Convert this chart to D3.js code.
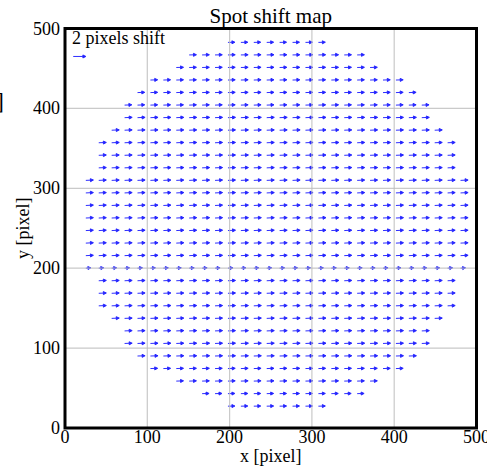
<!DOCTYPE html>
<html>
<head>
<meta charset="utf-8">
<script src="https://cdn.jsdelivr.net/npm/d3@7"></script>
<style>
  body { margin: 0; background: #fff; }
  svg { display: block; }
</style>
</head>
<body>
<div id="chart"></div>
<script>
"use strict";

// lattice of spot centres (pixel coords)
const colX = [25.3, 41.0, 56.7, 72.4, 88.1, 103.8, 119.5, 135.2, 150.9, 166.6,
    182.3, 198.0, 213.7, 229.4, 245.1, 260.8, 276.5, 292.2, 307.9, 323.6,
    339.3, 355.0, 370.7, 386.4, 402.1, 417.8, 433.5, 449.2, 464.9, 480.6];

// rows, top to bottom
const rowY = [482.6, 466.9, 451.2, 435.5, 419.8, 404.1, 388.4, 372.7, 357.0, 341.3,
    325.6, 309.9, 294.2, 278.5, 262.8, 247.1, 231.4, 215.7, 200.0, 184.3,
    168.6, 152.9, 137.2, 121.5, 105.8, 90.1, 74.4, 58.7, 43.0, 27.3];

// first / last column index in each row
const rowFirst = [11, 8, 7, 5, 4, 3, 3, 2, 1, 1, 1, 0, 0, 0, 0, 0, 0, 0, 0, 1, 1, 1, 2, 3, 3, 4, 5, 7, 9, 11];
const rowLast = [18, 21, 22, 24, 25, 26, 26, 27, 28, 28, 28, 29, 29, 29, 29, 29, 29, 29, 29, 28, 28, 28, 27, 26, 26, 25, 24, 22, 21, 18];

// typical shift in each row (pixels)
const rowDx = [1.1, 1.15, 1.15, 1.15, 1.15, 1.15, 1.2, 1.2, 1.2, 1.2, 1.2, 1.2, 1.2, 1.2, 1.2,
    1.2, 1.2, 1.2, 0.8, 1.2, 1.2, 1.2, 1.2, 1.2, 1.2, 1.2, 1.15, 1.15, 1.1, 1.1];
const rowDy = [0.03, 0.03, 0.03, 0.04, 0.04, 0.05, 0.05, 0.05, 0.05, 0.05, 0.05, 0.06, 0.06, 0.06, 0.06,
    0.06, 0.06, 0.06, 0.06, 0.05, 0.05, 0.05, 0.05, 0.05, 0.05, 0.04, 0.04, 0.04, 0.03, 0.03];

const ticks = [0, 100, 200, 300, 400, 500];
const legendPos = [10, 465];
const legendShift = 2;
const quiverScale = 7.7; // drawn data units per pixel of shift

const width = 487, height = 468;
const margin = { top: 28.5, right: 10.5, bottom: 40, left: 65 };
const serif = "'Liberation Serif', 'Times New Roman', Times, 'DejaVu Serif', serif";

const x = d3.scaleLinear().domain([0, 500]).range([margin.left, width - margin.right]);
const y = d3.scaleLinear().domain([0, 500]).range([height - margin.bottom, margin.top]);

const svg = d3.select("#chart").append("svg")
    .attr("width", width)
    .attr("height", height)
    .attr("font-family", serif)
    .style("font-family", serif);

// build arrows
let arrows = [];
rowY.forEach(function (yy, r) {
    for (let c = rowFirst[r]; c <= rowLast[r]; c++) {
        arrows.push({ x: colX[c], y: yy, dx: rowDx[r], dy: rowDy[r] });
    }
});

function arrowPath(x0, y0, x1, y1) {
    const ang = Math.atan2(y1 - y0, x1 - x0);
    const hl = 3, hw = 1.5;
    const bx = x1 - hl * Math.cos(ang), by = y1 - hl * Math.sin(ang);
    const px = -Math.sin(ang) * hw, py = Math.cos(ang) * hw;
    return "M" + x0 + "," + y0 + "L" + bx + "," + by +
        "M" + x1 + "," + y1 + "L" + (bx + px) + "," + (by + py) +
        "L" + (bx - px) + "," + (by - py) + "Z";
}

svg.append("g")
    .attr("class", "quiver")
    .selectAll("path")
    .data(arrows)
    .enter()
    .append("path")
    .attr("d", function (d) {
        return arrowPath(x(d.x), y(d.y), x(d.x + d.dx * quiverScale), y(d.y + d.dy * quiverScale));
    })
    .attr("stroke", "#2323ff")
    .attr("stroke-width", 0.95)
    .attr("fill", "#2323ff");

// grid
const grid = svg.append("g").attr("class", "grid");
grid.selectAll("line.gx")
    .data(ticks.slice(1, -1))
    .enter().append("line")
    .attr("x1", x).attr("x2", x)
    .attr("y1", y(0)).attr("y2", y(500))
    .attr("stroke", "#bdbdbd").attr("stroke-width", 1.2).attr("opacity", 0.8);
grid.selectAll("line.gy")
    .data(ticks.slice(1, -1))
    .enter().append("line")
    .attr("y1", y).attr("y2", y)
    .attr("x1", x(0)).attr("x2", x(500))
    .attr("stroke", "#bdbdbd").attr("stroke-width", 1.2).attr("opacity", 0.8);

// frame
svg.append("rect")
    .attr("x", x(0)).attr("y", y(500))
    .attr("width", x(500) - x(0)).attr("height", y(0) - y(500))
    .attr("fill", "none").attr("stroke", "#000").attr("stroke-width", 3);

// tick labels
svg.append("g").selectAll("text")
    .data(ticks)
    .enter().append("text")
    .attr("x", x)
    .attr("y", y(0) + 15)
    .attr("text-anchor", "middle")
    .attr("font-size", 18)
    .text(function (d) { return d; });

svg.append("g").selectAll("text")
    .data(ticks)
    .enter().append("text")
    .attr("x", x(0) - 5)
    .attr("y", function (d) { return y(d) + 6; })
    .attr("text-anchor", "end")
    .attr("font-size", 18)
    .text(function (d) { return d; });

// titles
svg.append("text")
    .attr("x", (x(0) + x(500)) / 2)
    .attr("y", 23)
    .attr("text-anchor", "middle")
    .attr("font-size", 21)
    .text("Spot shift map");

svg.append("text")
    .attr("x", (x(0) + x(500)) / 2)
    .attr("y", 462)
    .attr("text-anchor", "middle")
    .attr("font-size", 18)
    .text("x [pixel]");

svg.append("text")
    .attr("transform", "translate(29," + ((y(0) + y(500)) / 2) + ") rotate(-90)")
    .attr("text-anchor", "middle")
    .attr("font-size", 18)
    .text("y [pixel]");

// stray glyph cut off at the left edge
svg.append("text")
    .attr("x", 4)
    .attr("y", 109)
    .attr("text-anchor", "end")
    .attr("font-size", 23)
    .text("]");

// legend
svg.append("text")
    .attr("x", 72)
    .attr("y", 44)
    .attr("font-size", 18)
    .text("2 pixels shift");

svg.append("path")
    .attr("d", arrowPath(x(legendPos[0]), y(legendPos[1]),
        x(legendPos[0] + legendShift * quiverScale), y(legendPos[1])))
    .attr("stroke", "#2323ff")
    .attr("stroke-width", 0.95)
    .attr("fill", "#2323ff");
</script>
</body>
</html>
